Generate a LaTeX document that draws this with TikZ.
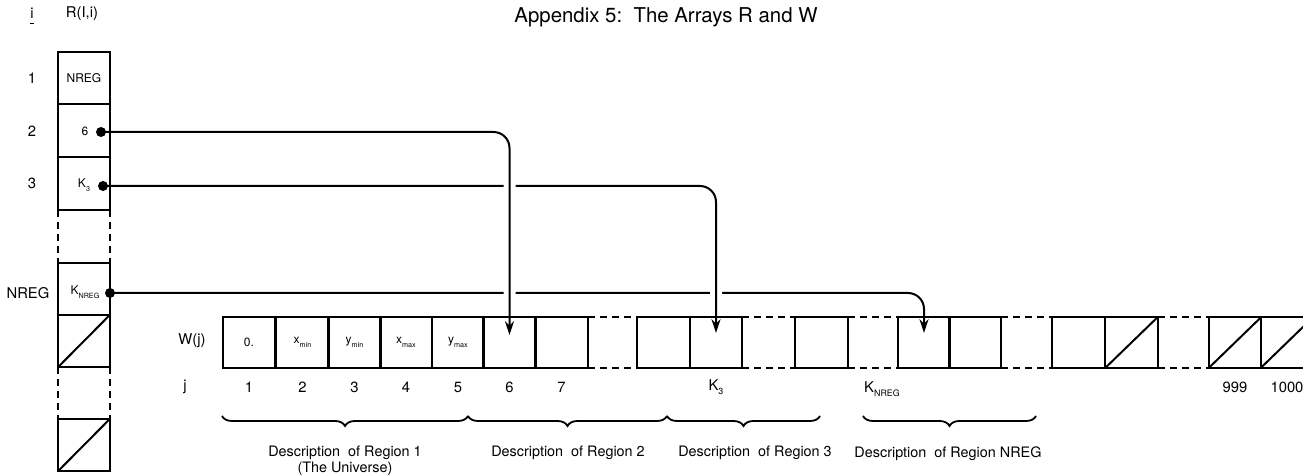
\documentclass[tikz,border=0pt]{standalone}
\usepackage{fontspec}
\setmainfont{TeX Gyre Heros}
\usetikzlibrary{arrows.meta,decorations.pathreplacing,backgrounds,positioning}

\newcommand{\lowsub}[1]{\raisebox{-0.55ex}{\scalebox{0.6}{#1}}}

\tikzset{
  cell/.style={draw, line width=1pt, minimum width=26.3pt, minimum height=25.5pt,
    inner sep=0pt, outer sep=0pt, font=\fontsize{6}{7}\selectfont},
  rcell/.style={cell, minimum width=26pt, minimum height=26.2pt},
  gapline/.style={line width=1pt, dash pattern=on 3.5pt off 2.5pt},
  link/.style={line width=1pt, rounded corners=8pt, -{Stealth[length=7pt,width=4.6pt]}},
  over/.style={preaction={draw=white, line width=6pt, -}},
  ptr/.style={circle, fill, inner sep=0pt, minimum size=5pt},
  lbl/.style={font=\fontsize{7.4}{8}\selectfont, inner sep=0pt},
  desc/.style={font=\fontsize{7.2}{7.8}\selectfont, align=center, anchor=north, inner sep=0pt},
  brc/.style={line width=0.9pt, decorate, decoration={brace, mirror, amplitude=5pt}}
}

\begin{document}
\begin{tikzpicture}[x=0.5pt, y=-0.5pt]
\clip (0,0) rectangle (1303,475);

% title
\node[font=\fontsize{10.2}{12}\selectfont] (title) at (666,17) {Appendix 5:\ \ The Arrays R and W};

% array R
\node[lbl] (hi) at (32,13) {i};
\draw[line width=0.6pt] ([yshift=-2.5pt]hi.south west) -- ([yshift=-2.5pt]hi.south east);
\node[lbl] (hR) at (82,14) {R(I,i)};

\node[rcell] (r1) at (84,78) {NREG};
\node[rcell] (r2) at (84,130.5) {};
\node[rcell] (r3) at (84,183.5) {};
\node[rcell] (rn) at (84,289) {};
\node[rcell] (rs) at (84,341) {};
\node[rcell] (rt) at (84,445) {};

\node[lbl] (i1) at (32,78) {1};
\node[lbl] (i2) at (32,131) {2};
\node[lbl] (i3) at (32,183) {3};
\node[lbl] (in) at (28,293) {NREG};

\node[font=\fontsize{6}{7}\selectfont, inner sep=0pt] (v2) at (85,131) {6};
\node[font=\fontsize{6}{7}\selectfont, inner sep=0pt] (v3) at (84,185) {K\lowsub{3}};
\node[font=\fontsize{6}{7}\selectfont, inner sep=0pt] (vn) at (85,292) {K\lowsub{NREG}};

\node[ptr] (p2) at (101,132) {};
\node[ptr] (p3) at (103,186) {};
\node[ptr] (pn) at (110,293) {};

% dashed gaps in R
\draw[gapline] (r3.south west) -- (rn.north west) (r3.south east) -- (rn.north east);
\draw[gapline] (rs.south west) -- (rt.north west) (rs.south east) -- (rt.north east);

% array W
\node[lbl] (hW) at (192,341) {W(j)};
\node[lbl] (hj) at (185,387) {j};
\foreach \c/\x/\t in {w1/249/0., w2/302.5/x\lowsub{min}, w3/354.5/y\lowsub{min},
    w4/406/x\lowsub{max}, w5/458/y\lowsub{max}}
  \node[cell] (\c) at (\x,342.5) {\t};
\foreach \c/\x in {w6/509.5, w7/561.5, wa/663.5, wk/716, wb/821.5, wn/924,
    wc/975, wd/1078.5, we/1131.5, wf/1235, wg/1287}
  \node[cell] (\c) at (\x,342.5) {};

\foreach \a/\b in {w7/wa, wk/wb, wb/wn, wc/wd, we/wf}
  \draw[gapline] (\a.north east) -- (\b.north west) (\a.south east) -- (\b.south west);

% empty slots
\foreach \c in {rs, rt, we, wf, wg}
  \draw[line width=1pt] (\c.south west) -- (\c.north east);

% index j
\foreach \c/\t in {w1/1, w2/2, w3/3, w4/4, w5/5, w6/6, w7/7, wk/K\lowsub{3}, wf/999, wg/1000}
  \node[lbl] (j\c) at (\c |- 0,387) {\t};
\node[lbl] (jwn) at (882,389) {K\lowsub{NREG}};

% braces
\coordinate (b0) at (222,416);
\coordinate (b1) at (468,416);
\coordinate (b2) at (667,416);
\coordinate (b3) at (820,416);
\coordinate (b4) at (863,416);
\coordinate (b5) at (1036,416);
\draw[brc] (b0) -- (b1);
\draw[brc] (b1) -- (b2);
\draw[brc] (b2) -- (b3);
\draw[brc] (b4) -- (b5);

\node[desc] (d1) at (345,446) {Description\ \ of Region 1\\(The Universe)};
\node[desc] (d2) at (568,446) {Description\ \ of Region 2};
\node[desc] (d3) at (755,446) {Description\ \ of Region 3};
\node[desc] (dn) at (948,446) {Description\ \ of Region NREG};

% pointers from R into W
\coordinate (t6) at ([yshift=-9pt]w6.north);
\coordinate (tk) at ([yshift=-8pt]wk.north);
\coordinate (tn) at ([yshift=-8pt]wn.north);
\begin{pgfonlayer}{background}
  \draw[link] (pn.center) -| (tn);
  \draw[link, over] (p3.center) -| (tk);
  \draw[link, over] (p2.center) -| (t6);
\end{pgfonlayer}
\end{tikzpicture}
\end{document}
